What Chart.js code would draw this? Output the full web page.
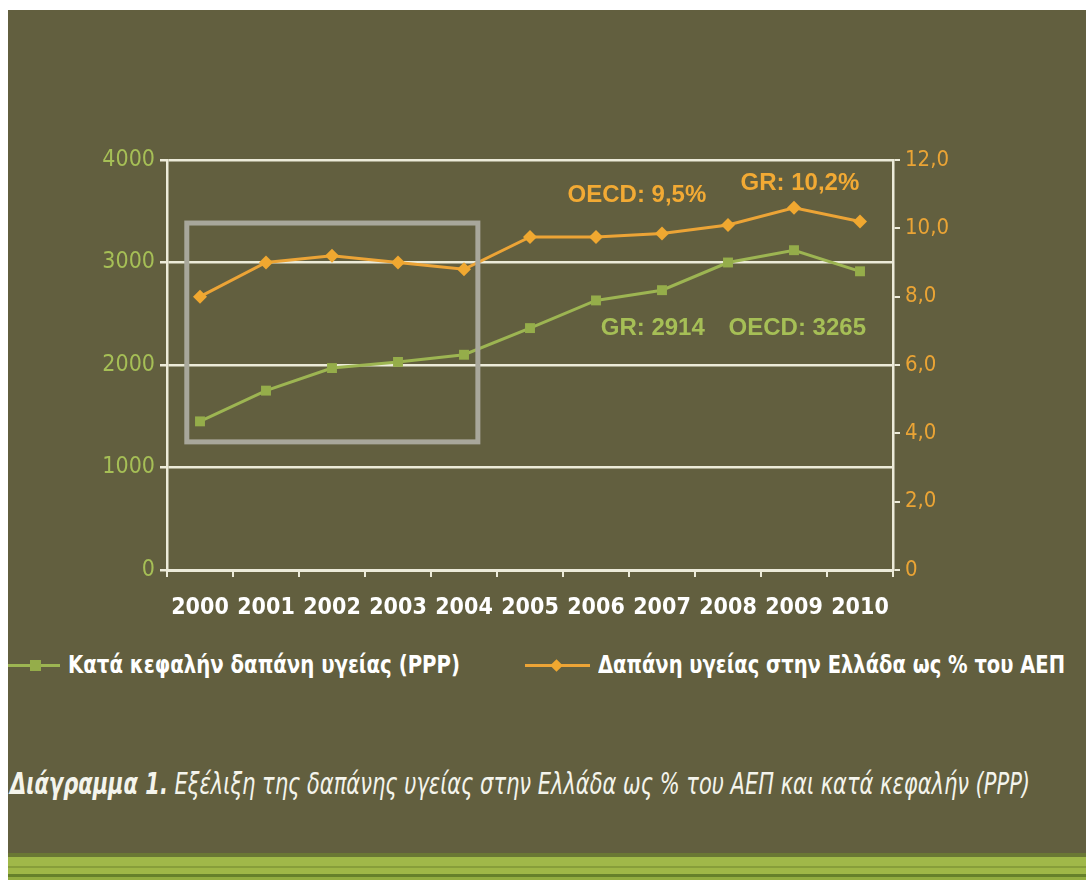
<!DOCTYPE html>
<html lang="el">
<head>
<meta charset="utf-8">
<title>Δαπάνη υγείας στην Ελλάδα</title>
<script src="https://cdn.jsdelivr.net/npm/chart.js@4.4.1/dist/chart.umd.min.js"></script>
<style>
  html, body { margin: 0; padding: 0; background: #fff; }
  body { width: 1086px; height: 881px; position: relative; overflow: hidden; }
  #panel { position: absolute; left: 8px; top: 10px; right: 0; bottom: 0; background: #625f3f; }
  #chartBox { position: absolute; left: 0; top: 0; width: 1078px; height: 620px; }
  .swatch-line { position: absolute; height: 3px; }
  .swatch-mark { position: absolute; }
  .fit { position: absolute; white-space: nowrap; transform-origin: 0 50%; color: #fff; }
  .legend-text { font: bold 25px "Liberation Sans Narrow", "DejaVu Sans Condensed", sans-serif; top: 640px; line-height: 30px; }
  #caption { left: 2px; top: 756px; line-height: 34px; font: italic 30px "Liberation Sans Narrow", "DejaVu Sans Condensed", sans-serif; color: #f4f4ec; }
  #caption b { font-weight: bold; }
  #stripes { position: absolute; left: 0; right: 0; bottom: 0; height: 28px;
    background: linear-gradient(to bottom,
      #6a7834 0px, #6a7834 4px,
      #a0b849 4px, #a0b849 13px,
      #879e3a 13px, #879e3a 15px,
      #9fb747 15px, #9fb747 21px,
      #66802a 21px, #66802a 24px,
      #92ac40 24px, #92ac40 27px,
      #ffffff 27px); }
</style>
</head>
<body>
<div id="panel">
  <div id="chartBox"><canvas id="healthChart"></canvas></div>

  <div class="swatch-line" style="left:0;width:52px;top:654px;background:#9db552;"></div>
  <div class="swatch-mark" style="left:22px;top:650px;width:11px;height:11px;background:#95ad4a;"></div>
  <div class="fit legend-text" id="legendA" data-width="392" style="left:60px;">Κατά κεφαλήν δαπάνη υγείας (PPP)</div>

  <div class="swatch-line" style="left:517px;width:65px;top:654px;background:#eca436;"></div>
  <div class="swatch-mark" style="left:544px;top:651px;width:9px;height:9px;background:#f0a830;transform:rotate(45deg);"></div>
  <div class="fit legend-text" id="legendB" data-width="467" style="left:590px;">Δαπάνη υγείας στην Ελλάδα ως % του ΑΕΠ</div>

  <div class="fit" id="caption" data-width="1020"><b>Διάγραμμα 1.</b> Εξέλιξη της δαπάνης υγείας στην Ελλάδα ως % του ΑΕΠ και κατά κεφαλήν (PPP)</div>

  <div id="stripes"></div>
</div>

<script>
// years on the x axis
const years = ['2000', '2001', '2002', '2003', '2004', '2005', '2006', '2007', '2008', '2009', '2010'];
// per capita health spending, PPP (left axis)
const perCapitaPPP = [1450, 1750, 1970, 2030, 2100, 2360, 2630, 2730, 3000, 3120, 2914];
// health spending as % of GDP (right axis)
const gdpShare = [8.0, 9.0, 9.2, 9.0, 8.8, 9.75, 9.75, 9.85, 10.1, 10.6, 10.2];

const GREEN = '#9db552';
const ORANGE = '#eca436';
const GRID = '#ecebd9';
const NARROW = '"Liberation Sans Narrow", "DejaVu Sans Condensed", sans-serif';

// text notes placed in scale units (category index, axis value)
const notes = [
  { text: 'OECD: 9,5%', axis: 'y1', at: 6.62, value: 10.97, color: '#f2aa34' },
  { text: 'GR: 10,2%', axis: 'y1', at: 9.09, value: 11.33, color: '#f2aa34' },
  { text: 'GR: 2914', axis: 'y', at: 6.86, value: 2360, color: '#a6bf56' },
  { text: 'OECD: 3265', axis: 'y', at: 9.05, value: 2360, color: '#a6bf56' }
];
// grey frame around the 2000-2004 period
const focusBox = { from: -0.2, to: 4.21, low: 1250, high: 3385 };

const overlay = {
  id: 'overlay',
  afterDatasetsDraw(chart) {
    const { ctx, scales } = chart;
    const x = scales.x, y = scales.y;
    ctx.save();
    const l = x.getPixelForValue(focusBox.from);
    const r = x.getPixelForValue(focusBox.to);
    const t = y.getPixelForValue(focusBox.high);
    const b = y.getPixelForValue(focusBox.low);
    ctx.strokeStyle = '#a8a79b';
    ctx.lineWidth = 5;
    ctx.strokeRect(l, t, r - l, b - t);

    ctx.font = 'bold 24px "Liberation Sans", Arial, sans-serif';
    ctx.textAlign = 'center';
    ctx.textBaseline = 'middle';
    notes.forEach(n => {
      ctx.fillStyle = n.color;
      ctx.fillText(n.text, x.getPixelForValue(n.at), scales[n.axis].getPixelForValue(n.value));
    });
    ctx.restore();
  }
};

Chart.defaults.font.family = NARROW;

new Chart(document.getElementById('healthChart'), {
  type: 'line',
  data: {
    labels: years,
    datasets: [
      {
        label: 'Κατά κεφαλήν δαπάνη υγείας (PPP)',
        data: perCapitaPPP,
        yAxisID: 'y',
        borderColor: GREEN,
        backgroundColor: '#95ad4a',
        borderWidth: 3,
        pointStyle: 'rect',
        pointRadius: 7,
        pointBorderWidth: 0,
        tension: 0
      },
      {
        label: 'Δαπάνη υγείας στην Ελλάδα ως % του ΑΕΠ',
        data: gdpShare,
        yAxisID: 'y1',
        borderColor: ORANGE,
        backgroundColor: '#f0a830',
        borderWidth: 3,
        pointStyle: 'rectRot',
        pointRadius: 7,
        pointBorderWidth: 0,
        tension: 0
      }
    ]
  },
  options: {
    responsive: true,
    maintainAspectRatio: false,
    animation: false,
    layout: { padding: { top: 150, left: 0, right: 0, bottom: 0 } },
    plugins: {
      legend: { display: false },
      tooltip: { enabled: false }
    },
    scales: {
      x: {
        offset: true,
        afterFit(scale) { scale.height = 60; },
        grid: { offset: true, drawOnChartArea: false, color: GRID, lineWidth: 2, tickLength: 7 },
        border: { color: GRID, width: 3 },
        ticks: { color: '#ffffff', padding: 17, maxRotation: 0, minRotation: 0, autoSkip: false, font: { size: 23, weight: 'bold' } }
      },
      y: {
        position: 'left',
        min: 0,
        max: 4000,
        afterFit(scale) { scale.width = 159; },
        ticks: { stepSize: 1000, color: '#a6bf56', padding: 5, font: { size: 23 }, callback: v => String(v) },
        grid: { color: GRID, lineWidth: 2.5, tickLength: 7 },
        border: { color: GRID, width: 2.5 }
      },
      y1: {
        position: 'right',
        min: 0,
        max: 12,
        afterFit(scale) { scale.width = 193; },
        ticks: {
          stepSize: 2,
          color: '#eaa435',
          padding: 5,
          font: { size: 22 },
          callback: v => v === 0 ? '0' : v.toFixed(1).replace('.', ',')
        },
        grid: { drawOnChartArea: false, color: GRID, lineWidth: 2, tickLength: 7 },
        border: { color: GRID, width: 2.5 }
      }
    }
  },
  plugins: [overlay]
});

// squeeze the legend and caption text to their widths
document.querySelectorAll('.fit').forEach(el => {
  const target = Number(el.dataset.width);
  const w = el.getBoundingClientRect().width;
  el.style.transform = 'scaleX(' + (target / w) + ')';
});
</script>
</body>
</html>
